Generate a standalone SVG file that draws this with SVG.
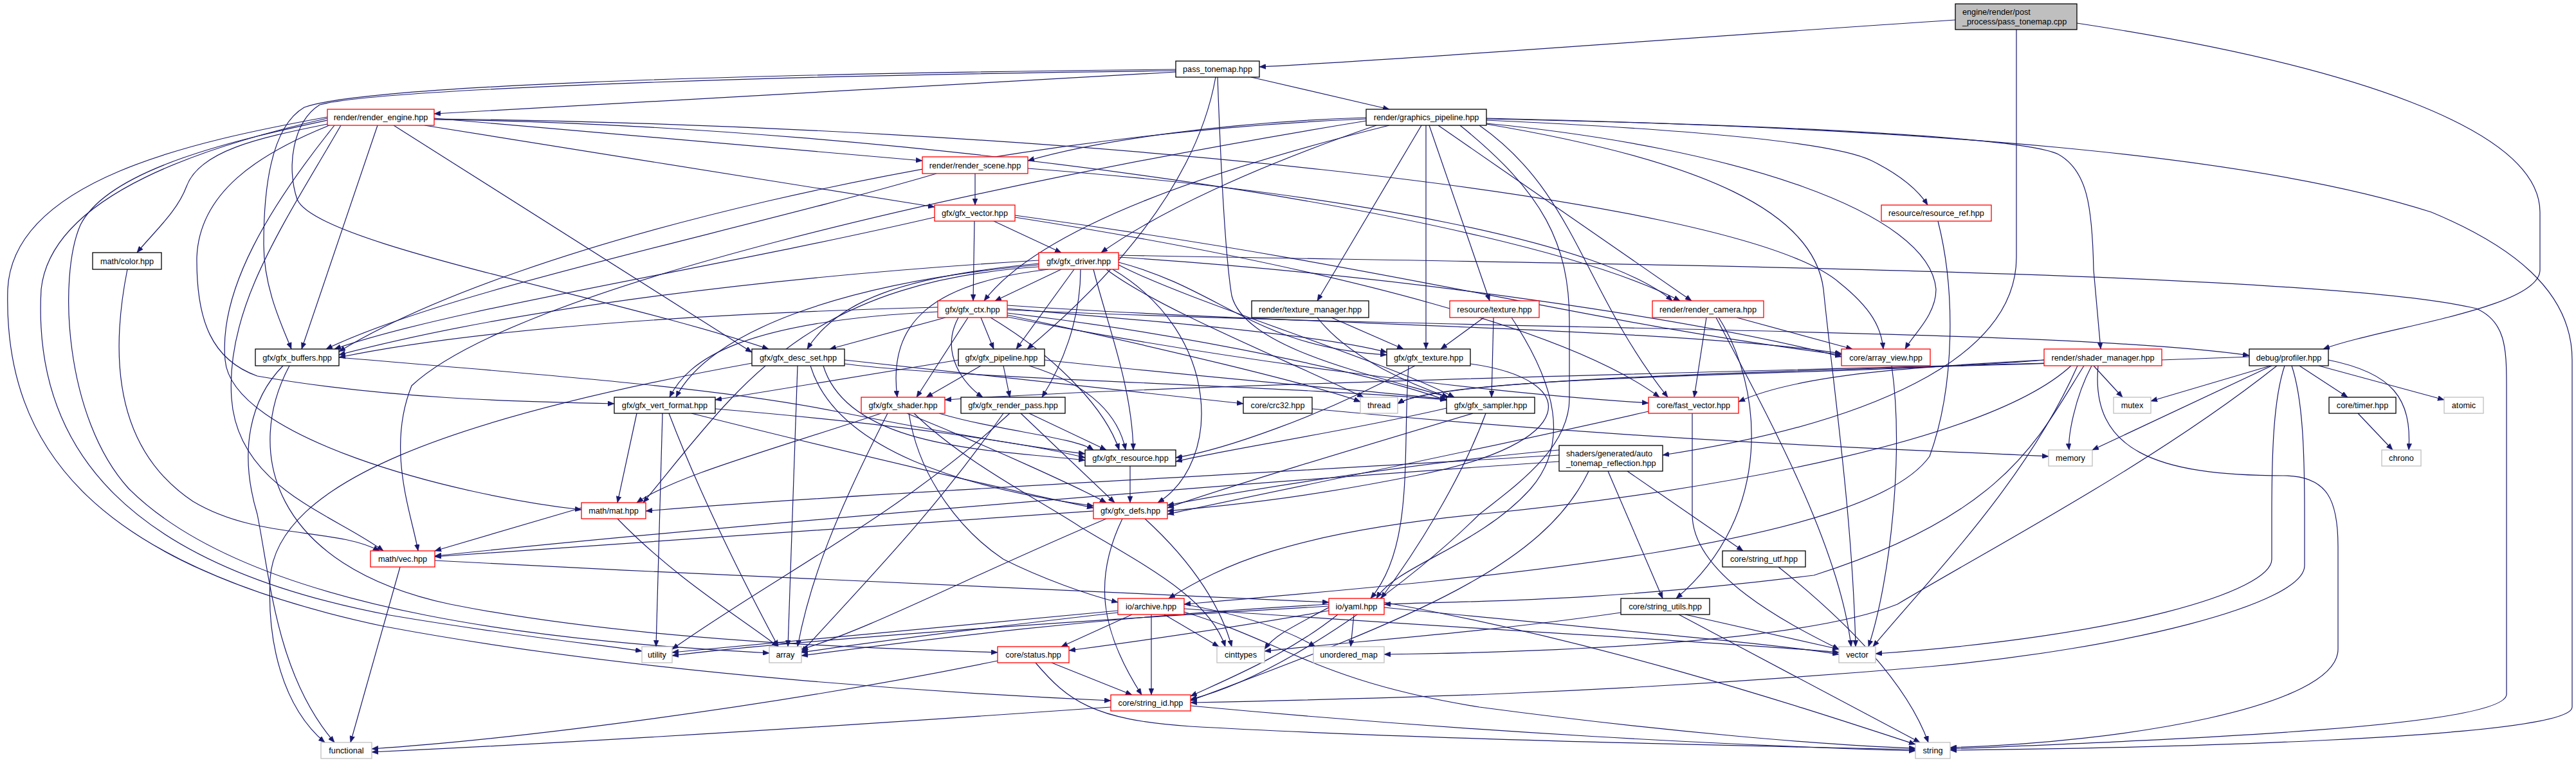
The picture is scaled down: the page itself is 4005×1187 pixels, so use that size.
<svg xmlns="http://www.w3.org/2000/svg" width="4005" height="1187" viewBox="0 0 4005 1187">
<defs>
<style>
.e path{fill:none;stroke:#191970;stroke-width:1.2;marker-end:url(#a)}
.n rect{fill:#fff;stroke:#000;stroke-width:1.3}
.n.r rect{stroke:#ff0000}
.n.g rect{stroke:#bfbfbf}
.n.root rect{fill:#bfbfbf}
.n text{font-family:"Liberation Sans",Arial,Helvetica,sans-serif;font-size:12.7px;text-anchor:middle;fill:#000}
.n text.l{text-anchor:start}
</style>
<marker id="a" markerUnits="userSpaceOnUse" markerWidth="11" markerHeight="8" refX="10" refY="4" orient="auto"><path d="M0,0 L10,4 L0,8 z" fill="#191970" stroke="#191970" stroke-width="0.5"/></marker>
</defs>
<rect width="4005" height="1187" fill="#fff"/>
<g id="edges" class="e">
<path d="M3040,31 C2600,60 2200,92 1958,104"/>
<path d="M3135,46 L3135,400 C3135,560 2900,660 2585,708"/>
<path d="M3229,36 C3650,100 3949,200 3949,330 L3949,420 C3949,480 3700,510 3612,543"/>
<path d="M1828,112 L675,177"/>
<path d="M1945,120 L2160,170"/>
<path d="M1828,108 C1100,115 560,135 473,167 C425,195 410,280 410,380 C410,450 440,510 453,543"/>
<path d="M1828,110 C1150,118 580,140 497,163 C455,190 445,260 462,310 C490,380 950,460 1195,543"/>
<path d="M1890,120 C1860,290 1720,440 1597,543"/>
<path d="M1893,120 C1898,260 1905,400 1915,460 C1935,540 2120,580 2252,618"/>
<path d="M675,184 L1434,250"/>
<path d="M660,195 L1453,322"/>
<path d="M509,193 C400,215 310,235 290,290 C275,330 240,360 213,393"/>
<path d="M587,195 L469,543"/>
<path d="M612,195 L1169,548"/>
<path d="M675,186 C1400,195 2350,330 2612,468"/>
<path d="M675,185 C1600,195 2700,300 2860,440 C2910,480 2925,510 2928,543"/>
<path d="M509,182 C300,220 20,280 12,450 C5,700 150,880 600,975 C1000,1050 1500,1080 1727,1090"/>
<path d="M509,184 C330,225 80,300 64,450 C50,700 200,880 606,957 C800,990 950,1005 998,1013"/>
<path d="M509,187 C380,215 170,260 125,350 C90,430 100,650 200,760 C400,960 900,1000 1196,1016"/>
<path d="M512,195 C400,240 310,300 306,400 C305,500 330,560 400,585 C600,620 800,625 955,628"/>
<path d="M520,195 C420,320 340,450 350,560 C360,680 700,770 904,793"/>
<path d="M530,195 C440,350 350,480 360,620 C370,760 520,800 596,857"/>
<path d="M2124,183 C1900,190 1700,220 1598,250"/>
<path d="M2124,185 C1500,210 800,380 527,547"/>
<path d="M2124,188 C1500,290 800,450 640,600 C600,700 640,800 650,857"/>
<path d="M2140,195 C1950,260 1800,330 1712,393"/>
<path d="M2160,195 C1900,260 1620,350 1530,468"/>
<path d="M2210,195 L2048,468"/>
<path d="M2217,195 L2217,543"/>
<path d="M2222,195 L2316,468"/>
<path d="M2236,195 L2630,468"/>
<path d="M2311,187 C2600,200 2850,220 2910,250 C2960,275 2985,300 2997,319"/>
<path d="M2311,185 C2800,195 3150,215 3200,240 C3245,265 3253,320 3255,420 L3266,543"/>
<path d="M2311,192 C2700,230 3000,330 3010,450 C3010,490 2975,520 2962,543"/>
<path d="M2311,184 C3000,200 3500,240 3780,330 C3900,380 3999,450 3999,560 L3999,1100 C3999,1150 3300,1165 3032,1167"/>
<path d="M2311,193 C2650,250 2820,330 2835,450 C2850,600 2880,800 2885,1006"/>
<path d="M2300,195 C2450,300 2460,450 2593,618"/>
<path d="M2270,195 C2400,300 2440,380 2440,500 L2440,620 C2440,700 2350,760 2300,800 C2200,900 2000,1050 1851,1088"/>
<path d="M1516,270 L1516,319"/>
<path d="M1456,270 C1150,360 700,450 507,543"/>
<path d="M1598,262 C2100,300 2500,380 2600,468"/>
<path d="M1545,344 L1650,393"/>
<path d="M1515,344 L1513,468"/>
<path d="M1453,338 C1100,420 700,480 520,543"/>
<path d="M1578,335 C2200,420 2450,500 2863,552"/>
<path d="M1578,338 C2100,420 2450,520 2580,618"/>
<path d="M1650,419 L1547,468"/>
<path d="M1615,405 C1200,430 800,480 527,552"/>
<path d="M1615,410 C1400,430 1300,470 1255,543"/>
<path d="M1670,419 L1580,543"/>
<path d="M1615,412 C1300,440 1100,520 1051,618"/>
<path d="M1630,419 C1450,440 1380,500 1395,618"/>
<path d="M1680,419 C1680,500 1650,570 1620,618"/>
<path d="M1739,408 C1900,450 1950,540 2156,552"/>
<path d="M1739,412 C1850,470 2150,560 2261,618"/>
<path d="M1720,419 C1800,480 2000,560 2120,618"/>
<path d="M1700,419 C1720,500 1760,600 1762,700"/>
<path d="M1730,419 C1900,520 1900,720 1800,782"/>
<path d="M1739,400 C2200,430 2650,500 2863,555"/>
<path d="M1739,397 C2400,410 3600,420 3850,480 C3895,500 3897,540 3897,600 L3897,1080 C3897,1130 3400,1150 3032,1165"/>
<path d="M1615,415 C1250,440 1150,600 1000,782"/>
<path d="M198,419 C170,560 180,700 300,780 C400,840 520,820 590,857"/>
<path d="M1458,478 C1000,490 700,520 527,556"/>
<path d="M1470,494 L1290,543"/>
<path d="M1525,494 L1545,543"/>
<path d="M1458,485 C1150,500 1070,560 1041,618"/>
<path d="M1505,494 L1425,618"/>
<path d="M1490,494 C1460,550 1500,600 1528,618"/>
<path d="M1566,480 C1800,500 2050,520 2156,548"/>
<path d="M1566,490 C1800,540 2050,600 2115,625"/>
<path d="M1566,487 C1850,520 2150,585 2249,623"/>
<path d="M1566,493 C1900,560 2300,610 2563,627"/>
<path d="M1540,494 C1650,560 1720,640 1740,700"/>
<path d="M1566,475 C2000,505 2600,510 2863,550"/>
<path d="M1566,482 C2300,515 3200,510 3497,553"/>
<path d="M2070,494 L2182,543"/>
<path d="M2048,494 C2100,560 2200,600 2252,618"/>
<path d="M2307,494 L2240,543"/>
<path d="M2322,494 L2319,618"/>
<path d="M2350,494 C2420,600 2440,690 2380,760 C2300,850 2170,880 2140,931"/>
<path d="M2653,494 L2634,618"/>
<path d="M2700,494 L2880,543"/>
<path d="M2668,494 C2750,650 2860,850 2878,1006"/>
<path d="M2672,494 C2740,600 2760,800 2606,931"/>
<path d="M3013,344 C3040,450 3040,600 3000,710 C2900,850 2300,900 1841,940"/>
<path d="M440,569 C390,620 370,700 400,800 C420,900 430,1050 520,1155"/>
<path d="M450,569 C380,700 420,880 700,940 C1000,1000 1400,1010 1551,1015"/>
<path d="M527,556 C800,580 1100,600 1300,640 C1450,670 1600,695 1687,706"/>
<path d="M1313,560 L1933,628"/>
<path d="M1280,569 C1320,700 1550,700 1687,716"/>
<path d="M1313,566 C1500,590 2000,600 2249,622"/>
<path d="M1260,569 C1300,700 1500,760 1700,787"/>
<path d="M1240,569 L1225,1006"/>
<path d="M1169,565 C700,650 430,750 420,900 C415,1000 440,1100 505,1155"/>
<path d="M1490,560 L1112,622"/>
<path d="M1525,569 L1440,618"/>
<path d="M1560,569 L1570,618"/>
<path d="M1600,569 C1700,600 1740,650 1750,700"/>
<path d="M1624,560 C1900,590 2150,610 2249,621"/>
<path d="M2200,569 C2050,650 1900,700 1828,712"/>
<path d="M2286,566 C2460,590 2460,690 2200,740 C2000,780 1870,790 1815,795"/>
<path d="M2190,569 C2180,700 2200,850 2131,931"/>
<path d="M2941,569 C2960,700 2940,900 2905,1006"/>
<path d="M3255,569 L3300,618"/>
<path d="M3252,569 C3225,620 3215,680 3217,700"/>
<path d="M3262,569 C3250,700 3350,740 3550,740 C3620,740 3635,780 3635,850 L3635,1010 C3635,1100 3300,1155 3032,1163"/>
<path d="M3178,560 C2900,585 2250,580 2173,628"/>
<path d="M3178,560 C3000,570 2800,580 2703,625"/>
<path d="M3240,569 C3170,680 3120,800 2820,895 C2500,935 2300,935 2152,940"/>
<path d="M3220,569 C3100,680 2700,760 2300,800 C2000,830 1900,880 1817,931"/>
<path d="M3230,569 C3150,750 3000,900 2912,1006"/>
<path d="M3178,565 C2600,580 1800,600 1469,622"/>
<path d="M3530,569 L3344,624"/>
<path d="M3575,569 L3650,618"/>
<path d="M3605,569 L3800,622"/>
<path d="M3532,569 L3253,700"/>
<path d="M3620,560 C3720,580 3750,620 3745,700"/>
<path d="M3552,569 C3535,620 3532,700 3532,800 L3532,870 C3532,920 3300,990 2916,1017"/>
<path d="M3563,569 C3580,620 3583,700 3583,800 L3583,880 C3583,940 3300,1010 3000,1037 C2500,1080 2100,1088 1851,1093"/>
<path d="M3540,569 C3350,720 3100,850 2950,940 C2800,1000 2400,1015 2152,1018"/>
<path d="M3497,555 C3000,575 2250,580 2173,628"/>
<path d="M3666,643 L3720,700"/>
<path d="M1112,636 C1400,660 1600,690 1687,712"/>
<path d="M1075,643 C1300,700 1600,770 1700,790"/>
<path d="M1030,643 L1020,1006"/>
<path d="M1040,643 C1100,800 1180,950 1210,1006"/>
<path d="M990,643 L960,782"/>
<path d="M1460,643 C1550,670 1670,680 1700,700"/>
<path d="M1410,643 C1550,700 1680,760 1720,782"/>
<path d="M1413,643 C1430,750 1500,830 1560,870 C1620,900 1690,925 1738,937"/>
<path d="M1380,643 C1300,800 1260,900 1240,1006"/>
<path d="M1370,643 C1200,700 1050,740 990,782"/>
<path d="M1421,643 C1500,720 1620,780 1680,820 C1780,880 1880,930 1905,1006"/>
<path d="M1600,643 L1720,700"/>
<path d="M1587,643 L1733,782"/>
<path d="M1570,643 C1400,800 1200,900 1045,1010"/>
<path d="M1560,643 C1450,800 1350,900 1246,1015"/>
<path d="M2040,636 C2600,690 3000,700 3185,710"/>
<path d="M2249,635 C2100,670 1900,700 1828,718"/>
<path d="M2290,643 C2100,700 1900,760 1815,790"/>
<path d="M2310,643 C2270,750 2200,860 2147,931"/>
<path d="M2631,643 L2631,800 C2631,900 2800,980 2859,1010"/>
<path d="M2563,640 C2300,700 2000,760 1815,800"/>
<path d="M1757,725 L1757,782"/>
<path d="M2530,733 L2710,857"/>
<path d="M2500,733 L2585,931"/>
<path d="M2424,700 C2200,720 1950,760 1815,786"/>
<path d="M2424,708 C1900,740 1300,770 1004,795"/>
<path d="M2424,718 C1800,760 1000,830 676,865"/>
<path d="M2470,733 C2400,880 2200,960 1851,1090"/>
<path d="M1700,795 C1300,820 900,850 676,866"/>
<path d="M1720,807 C1500,900 1350,980 1246,1010"/>
<path d="M1780,807 C1860,880 1900,950 1915,1006"/>
<path d="M1745,807 C1700,900 1710,980 1775,1081"/>
<path d="M904,790 L676,857"/>
<path d="M960,807 C1050,900 1150,960 1210,1006"/>
<path d="M622,882 L545,1155"/>
<path d="M676,872 C1200,900 1800,925 2066,937"/>
<path d="M2765,882 C2850,950 2960,1050 2998,1155"/>
<path d="M1760,956 L1650,1006"/>
<path d="M1790,956 L1790,1081"/>
<path d="M1810,956 L1895,1006"/>
<path d="M1738,953 C1500,980 1350,1000 1246,1015"/>
<path d="M1738,950 C1400,980 1200,1000 1045,1015"/>
<path d="M1841,947 C2300,980 2700,1000 2859,1015"/>
<path d="M1841,952 C2000,1000 2050,1060 2300,1100 C2600,1140 2850,1160 2978,1164"/>
<path d="M1841,940 C1950,960 2010,985 2045,1006"/>
<path d="M2105,956 L2100,1006"/>
<path d="M2080,956 C2000,1020 1900,1060 1851,1083"/>
<path d="M2066,950 C1900,980 1750,1000 1662,1012"/>
<path d="M2066,945 C2000,980 1980,990 1966,1010"/>
<path d="M2066,940 C1700,960 1400,1000 1246,1020"/>
<path d="M2066,943 C1600,970 1200,1000 1045,1020"/>
<path d="M2152,945 C2500,980 2750,1000 2859,1018"/>
<path d="M2152,937 C2500,1000 2800,1100 2978,1158"/>
<path d="M2620,956 L2859,1010"/>
<path d="M2610,956 L2985,1155"/>
<path d="M2520,953 C2300,985 2100,998 1966,1013"/>
<path d="M1635,1031 L1760,1081"/>
<path d="M1551,1028 C1200,1100 800,1150 578,1165"/>
<path d="M1610,1031 C1660,1090 1700,1120 1850,1130 C2200,1150 2700,1160 2978,1166"/>
<path d="M1727,1100 C1300,1130 900,1155 578,1170"/>
<path d="M1851,1098 C2300,1140 2700,1160 2978,1168"/>
</g>
<g id="nodes">
<g id="n0" class="n root"><rect x="3040" y="6" width="189" height="40"/><text class="l" x="3051" y="22.5">engine/render/post</text><text class="l" x="3051" y="37.5">_process/pass_tonemap.cpp</text></g>
<g id="n1" class="n"><rect x="1828" y="95" width="130" height="25"/><text x="1893" y="112">pass_tonemap.hpp</text></g>
<g id="n2" class="n r"><rect x="509" y="170" width="166" height="25"/><text x="592" y="187">render/render_engine.hpp</text></g>
<g id="n3" class="n"><rect x="2124" y="170" width="187" height="25"/><text x="2217.5" y="187">render/graphics_pipeline.hpp</text></g>
<g id="n4" class="n r"><rect x="1434" y="244" width="164" height="26"/><text x="1516" y="261.5">render/render_scene.hpp</text></g>
<g id="n5" class="n r"><rect x="1453" y="319" width="125" height="25"/><text x="1515.5" y="336">gfx/gfx_vector.hpp</text></g>
<g id="n6" class="n r"><rect x="1615" y="393" width="124" height="26"/><text x="1677" y="410.5">gfx/gfx_driver.hpp</text></g>
<g id="n7" class="n"><rect x="144" y="393" width="107" height="26"/><text x="197.5" y="410.5">math/color.hpp</text></g>
<g id="n8" class="n r"><rect x="2925" y="319" width="171" height="25"/><text x="3010.5" y="336">resource/resource_ref.hpp</text></g>
<g id="n9" class="n r"><rect x="1458" y="468" width="108" height="26"/><text x="1512" y="485.5">gfx/gfx_ctx.hpp</text></g>
<g id="n10" class="n"><rect x="1946" y="468" width="182" height="26"/><text x="2037" y="485.5">render/texture_manager.hpp</text></g>
<g id="n11" class="n r"><rect x="2254" y="468" width="139" height="26"/><text x="2323.5" y="485.5">resource/texture.hpp</text></g>
<g id="n12" class="n r"><rect x="2569" y="468" width="173" height="26"/><text x="2655.5" y="485.5">render/render_camera.hpp</text></g>
<g id="n13" class="n"><rect x="397" y="543" width="130" height="26"/><text x="462" y="560.5">gfx/gfx_buffers.hpp</text></g>
<g id="n14" class="n"><rect x="1169" y="543" width="144" height="26"/><text x="1241" y="560.5">gfx/gfx_desc_set.hpp</text></g>
<g id="n15" class="n"><rect x="1490" y="543" width="134" height="26"/><text x="1557" y="560.5">gfx/gfx_pipeline.hpp</text></g>
<g id="n16" class="n"><rect x="2156" y="543" width="130" height="26"/><text x="2221" y="560.5">gfx/gfx_texture.hpp</text></g>
<g id="n17" class="n r"><rect x="2863" y="543" width="138" height="26"/><text x="2932" y="560.5">core/array_view.hpp</text></g>
<g id="n18" class="n r"><rect x="3178" y="543" width="183" height="26"/><text x="3269.5" y="560.5">render/shader_manager.hpp</text></g>
<g id="n19" class="n"><rect x="3497" y="543" width="123" height="26"/><text x="3558.5" y="560.5">debug/profiler.hpp</text></g>
<g id="n20" class="n"><rect x="955" y="618" width="157" height="25"/><text x="1033.5" y="635">gfx/gfx_vert_format.hpp</text></g>
<g id="n21" class="n r"><rect x="1339" y="618" width="130" height="25"/><text x="1404" y="635">gfx/gfx_shader.hpp</text></g>
<g id="n22" class="n"><rect x="1494" y="618" width="162" height="25"/><text x="1575" y="635">gfx/gfx_render_pass.hpp</text></g>
<g id="n23" class="n"><rect x="1933" y="618" width="107" height="25"/><text x="1986.5" y="635">core/crc32.hpp</text></g>
<g id="n24" class="n g"><rect x="2115" y="618" width="58" height="25"/><text x="2144" y="635">thread</text></g>
<g id="n25" class="n"><rect x="2249" y="618" width="137" height="25"/><text x="2317.5" y="635">gfx/gfx_sampler.hpp</text></g>
<g id="n26" class="n r"><rect x="2563" y="618" width="140" height="25"/><text x="2633" y="635">core/fast_vector.hpp</text></g>
<g id="n27" class="n g"><rect x="3286" y="618" width="58" height="25"/><text x="3315" y="635">mutex</text></g>
<g id="n28" class="n"><rect x="3621" y="618" width="104" height="25"/><text x="3673" y="635">core/timer.hpp</text></g>
<g id="n29" class="n g"><rect x="3800" y="618" width="61" height="25"/><text x="3830.5" y="635">atomic</text></g>
<g id="n30" class="n"><rect x="1687" y="700" width="141" height="25"/><text x="1757.5" y="717">gfx/gfx_resource.hpp</text></g>
<g id="n31" class="n"><rect x="2424" y="693" width="161" height="40"/><text class="l" x="2435" y="709.5">shaders/generated/auto</text><text class="l" x="2435" y="724.5">_tonemap_reflection.hpp</text></g>
<g id="n32" class="n g"><rect x="3185" y="700" width="68" height="25"/><text x="3219" y="717">memory</text></g>
<g id="n33" class="n g"><rect x="3703" y="700" width="61" height="25"/><text x="3733.5" y="717">chrono</text></g>
<g id="n34" class="n r"><rect x="904" y="782" width="100" height="25"/><text x="954" y="799">math/mat.hpp</text></g>
<g id="n35" class="n r"><rect x="1700" y="782" width="115" height="25"/><text x="1757.5" y="799">gfx/gfx_defs.hpp</text></g>
<g id="n36" class="n r"><rect x="576" y="857" width="100" height="25"/><text x="626" y="874">math/vec.hpp</text></g>
<g id="n37" class="n"><rect x="2678" y="857" width="129" height="25"/><text x="2742.5" y="874">core/string_utf.hpp</text></g>
<g id="n38" class="n r"><rect x="1738" y="931" width="103" height="25"/><text x="1789.5" y="948">io/archive.hpp</text></g>
<g id="n39" class="n r"><rect x="2066" y="931" width="86" height="25"/><text x="2109" y="948">io/yaml.hpp</text></g>
<g id="n40" class="n"><rect x="2520" y="931" width="138" height="25"/><text x="2589" y="948">core/string_utils.hpp</text></g>
<g id="n41" class="n g"><rect x="998" y="1006" width="47" height="25"/><text x="1021.5" y="1023">utility</text></g>
<g id="n42" class="n g"><rect x="1196" y="1006" width="50" height="25"/><text x="1221" y="1023">array</text></g>
<g id="n43" class="n r"><rect x="1551" y="1006" width="111" height="25"/><text x="1606.5" y="1023">core/status.hpp</text></g>
<g id="n44" class="n g"><rect x="1892" y="1006" width="74" height="25"/><text x="1929" y="1023">cinttypes</text></g>
<g id="n45" class="n g"><rect x="2042" y="1006" width="110" height="25"/><text x="2097" y="1023">unordered_map</text></g>
<g id="n46" class="n g"><rect x="2859" y="1006" width="57" height="25"/><text x="2887.5" y="1023">vector</text></g>
<g id="n47" class="n r"><rect x="1727" y="1081" width="124" height="25"/><text x="1789" y="1098">core/string_id.hpp</text></g>
<g id="n48" class="n g"><rect x="499" y="1155" width="79" height="25"/><text x="538.5" y="1172">functional</text></g>
<g id="n49" class="n g"><rect x="2978" y="1155" width="54" height="25"/><text x="3005" y="1172">string</text></g>
</g>
</svg>
